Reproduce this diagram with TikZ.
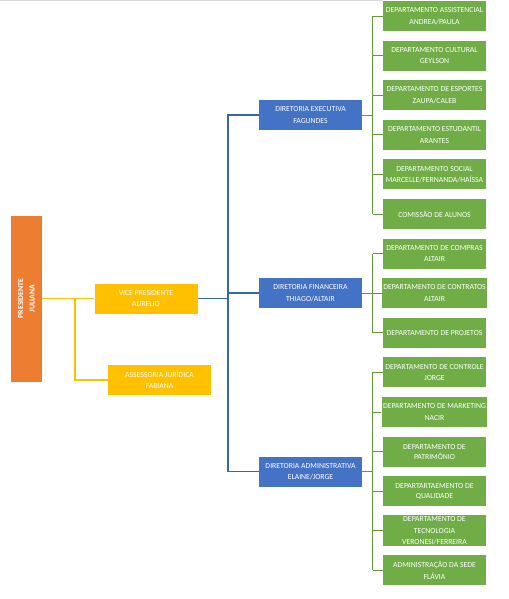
\documentclass[tikz,border=0pt]{standalone}
\usepackage{fontspec}
\setmainfont{Carlito}
\usepackage{xcolor}
\usepackage{tikz}
\usetikzlibrary{positioning,calc}
\definecolor{orgorange}{HTML}{ED7D31}
\definecolor{orggold}{HTML}{FFC000}
\definecolor{orgblue}{HTML}{4472C4}
\definecolor{orgline}{HTML}{3B64AD}
\definecolor{orggreen}{HTML}{70AD47}
\definecolor{orggreenline}{HTML}{5E9A3A}
\tikzset{
  box/.style={rectangle, text=white, align=center, inner sep=1pt,
              minimum width=77.25pt, minimum height=22.5pt,
              font=\fontsize{5.8}{8.6}\selectfont},
  presbox/.style={box, fill=orgorange, minimum width=23.25pt, minimum height=124.5pt,
                  font=\fontsize{5.8}{8.6}\selectfont\bfseries},
  vpbox/.style={box, fill=orggold},
  dirbox/.style={box, fill=orgblue},
  deptbox/.style={box, fill=orggreen},
  yline/.style={draw=orggold, line width=0.8pt},
  bline/.style={draw=orgline, line width=0.9pt},
  gline/.style={draw=orggreenline, line width=0.7pt},
}

\begin{document}
\begin{tikzpicture}[x=0.75pt, y=-0.75pt]
\useasboundingbox (0,0) rectangle (508,599);
\draw[gray!30, line width=0.8pt] (0,0.6) -- (383,0.6);

\node[presbox] (pres) at (26.5,298.5)
  {\rotatebox{90}{\begin{tabular}{@{}c@{}}PRESIDENTE\\JULIANA\end{tabular}}};
\node[vpbox] (vp)  at (146,298.5)  {VICE PRESIDENTE\\AURELIO};
\node[vpbox] (jur) at (159.5,380) {ASSESSORIA JURÍDICA\\FABIANA};

\node[dirbox] (exec) at (310.5,115)   {DIRETORIA EXECUTIVA\\FAGUNDES};
\node[dirbox] (fin)  at (310.5,293)   {DIRETORIA FINANCEIRA\\THIAGO/ALTAIR};
\node[dirbox] (adm)  at (310.5,471.5) {DIRETORIA ADMINISTRATIVA\\ELAINE/JORGE};

% executiva
\node[deptbox] (d0)  at (434.5,16.0)  {DEPARTAMENTO ASSISTENCIAL\\ANDREA/PAULA};
\node[deptbox] (d1)  at (434.5,55.6)  {DEPARTAMENTO CULTURAL\\GEYLSON};
\node[deptbox] (d2)  at (434.5,95.2)  {DEPARTAMENTO DE ESPORTES\\ZAUPA/CALEB};
\node[deptbox] (d3)  at (434.5,134.8) {DEPARTAMENTO ESTUDANTIL\\ARANTES};
\node[deptbox] (d4)  at (434.5,174.4) {DEPARTAMENTO SOCIAL\\MARCELLE/FERNANDA/HAÍSSA};
\node[deptbox] (d5)  at (434.5,214.0) {COMISSÃO DE ALUNOS};
% financeira
\node[deptbox] (d6)  at (434.5,253.6) {DEPARTAMENTO DE COMPRAS\\ALTAIR};
\node[deptbox] (d7)  at (434.5,293.2) {DEPARTAMENTO DE CONTRATOS\\ALTAIR};
\node[deptbox] (d8)  at (434.5,332.8) {DEPARTAMENTO DE PROJETOS};
% administrativa
\node[deptbox] (d9)  at (434.5,372.4) {DEPARTAMENTO DE CONTROLE\\JORGE};
\node[deptbox] (d10) at (434.5,412.0) {DEPARTAMENTO DE MARKETING\\NACIR};
\node[deptbox, font=\fontsize{5.8}{7.6}\selectfont] (d11) at (434.5,451.6) {DEPARTAMENTO DE\\PATRIMÔNIO};
\node[deptbox, font=\fontsize{5.8}{7.6}\selectfont] (d12) at (434.5,491.2) {DEPARTARTAEMENTO DE\\QUALIDADE};
\node[deptbox] (d13) at (434.5,530.8) {DEPARTAMENTO DE\\TECNOLOGIA\\VERONESI/FERREIRA};
\node[deptbox] (d14) at (434.5,570.4) {ADMINISTRAÇÃO DA SEDE\\FLÁVIA};

% presidencia
\coordinate (yj) at (75,298.5);
\draw[yline] (pres.east) -- (vp.west);
\draw[yline] (yj) |- (jur.west);

% diretorias
\coordinate (bj) at (228,298.5);
\draw[bline] (vp.east) -- (bj);
\draw[bline] (exec.west) -| (bj) |- (adm.west);
\draw[bline] (fin.west) -- (fin.west -| bj);

% departamentos
\coordinate (gj) at (372.5,0);
\draw[gline] (exec.east) -- (exec.east -| gj);
\draw[gline] (fin.east)  -- (fin.east -| gj);
\draw[gline] (adm.east)  -- (adm.east -| gj);
\draw[gline] (d0.west -| gj) -- (d5.west -| gj);
\draw[gline] (d6.west -| gj) -- (d8.west -| gj);
\draw[gline] (d9.west -| gj) -- (d14.west -| gj);
\foreach \i in {0,...,14} \draw[gline] (d\i.west -| gj) -- (d\i.west);
\end{tikzpicture}
\end{document}
